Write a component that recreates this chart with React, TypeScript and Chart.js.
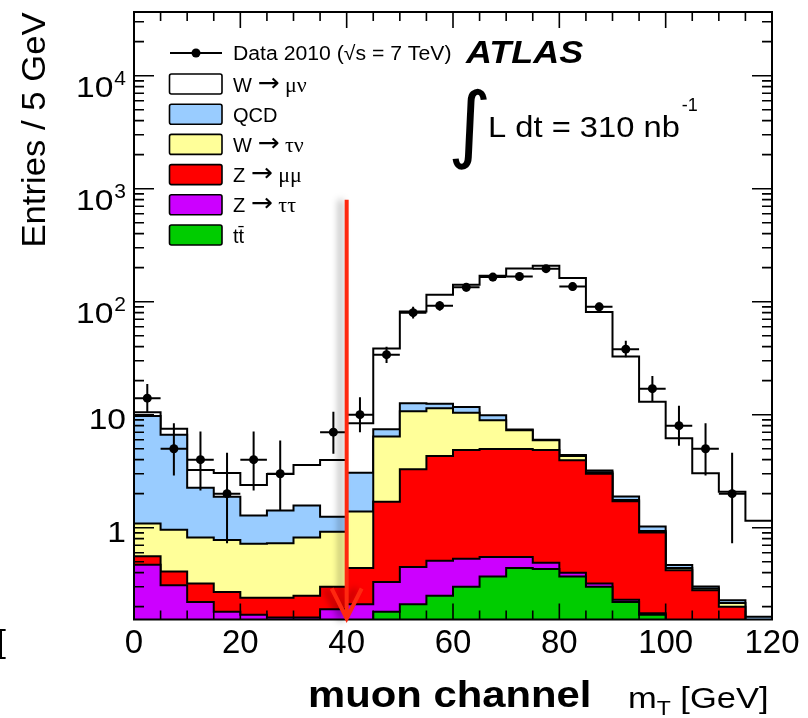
import { useEffect, useRef } from 'react';
import { Chart, registerables } from 'chart.js';

Chart.register(...registerables);

// m_T bin edges in GeV (5 GeV bins)
const binEdges = [0, 5, 10, 15, 20, 25, 30, 35, 40, 45, 50, 55, 60, 65, 70, 75, 80, 85, 90, 95, 100, 105, 110, 115, 120];

// Observed entries per bin (null = empty bin) and their error-bar extents
const dataCounts = [14, 5, 4, 2, 4, 3, null, 7, 10, 34, 80, 92, 134, 165, 167, 196, 136, 90, 38, 17, 8, 5, 2, null];
const dataErrLow = [10.5, 2.9, 2.13, 0.73, 2.13, 1.43, null, 4.5, 7.0, 28.6, 71, 83, 123, 152, 154, 182, 125, 82, 32.3, 13.1, 5.3, 2.9, 0.73, null];
const dataErrHigh = [18.7, 8.4, 7.1, 4.6, 7.1, 5.9, null, 10.6, 14.3, 40, 90, 101, 146, 178, 180, 211, 148, 98, 45, 22, 12, 8.4, 4.6, null];

// Expected entries per bin for each process (stack bottom first)
const ttbar = [0, 0, 0, 0, 0, 0, 0, 0, 0, 0.18, 0.21, 0.25, 0.30, 0.37, 0.44, 0.43, 0.37, 0.30, 0.22, 0.17, 0, 0, 0, 0];
const zTauTau = [0.47, 0.31, 0.22, 0.18, 0.17, 0.16, 0.16, 0.19, 0.21, 0.15, 0.24, 0.26, 0.23, 0.18, 0.11, 0.06, 0.03, 0.02, 0.01, 0.005, 0.05, 0.03, 0.02, 0.01];
const zMuMu = [0.09, 0.10, 0.10, 0.09, 0.07, 0.08, 0.09, 0.11, 0.23, 1.37, 2.84, 3.81, 4.35, 4.43, 4.43, 4.39, 3.55, 2.68, 1.48, 0.73, 0.37, 0.25, 0.18, 0.09];
const wTauNu = [0.53, 0.55, 0.50, 0.51, 0.48, 0.49, 0.57, 0.62, 0.95, 4.70, 7.41, 7.08, 5.52, 3.97, 2.32, 1.07, 0.35, 0.10, 0.05, 0.03, 0.02, 0.01, 0.015, 0.05];
const qcd = [8.66, 5.67, 1.44, 1.10, 0.56, 0.69, 0.75, 0.33, 1.68, 1.03, 1.90, 1.10, 1.30, 0.95, 0.10, 0.05, 0.10, 0.10, 0.13, 0.09, 0.027, 0.012, 0.013, 0.013];
const wMuNu = [0.75, 0.88, 0.98, 1.17, 1.11, 1.57, 2.02, 2.73, 5.33, 31.1, 69.3, 102.5, 129.3, 160.1, 189.6, 202, 157.6, 77.7, 30.8, 12.0, 5.72, 2.73, 1.85, 0.99];

// Legend entries, top to bottom
const legendDataLabel = 'Data 2010 (√s = 7 TeV)';
const legendLabels = ['W → μν', 'QCD', 'W → τν', 'Z → μμ', 'Z → ττ', 'tt̄'];
const legendColors = ['#ffffff', '#99ccff', '#ffff99', '#ff0000', '#cc00ff', '#00cc00'];

// Axis ranges and tick labels
const xMin = 0;
const xMax = 120;
const yMin = 0.154;
const yMax = 36600;
const xTickValues = [0, 20, 40, 60, 80, 100, 120];
const xTickLabels = ['0', '20', '40', '60', '80', '100', '120'];
const yTickValues = [1, 10, 100, 1000, 10000];
const yTickBase = ['1', '10', '10', '10', '10'];
const yTickExp = ['', '', '2', '3', '4'];

// Selection cut on m_T marked by the arrow
const cutValue = 40;
const cutArrowTop = 800;

const SANS = '"Liberation Sans", Arial, Helvetica, sans-serif';
const SERIF = '"Liberation Serif", "DejaVu Serif", serif';
const ARROW_FONT = '"DejaVu Sans", sans-serif';
const FLOOR = 1e-3;

type TextOpts = { align?: CanvasTextAlign; sx?: number; weight?: string; family?: string };

function drawText(ctx: CanvasRenderingContext2D, s: string, x: number, y: number, size: number, opts: TextOpts = {}) {
  const { align = 'left', sx = 1, weight = '', family = SANS } = opts;
  ctx.save();
  ctx.font = `${weight} ${size}px ${family}`;
  ctx.textAlign = align;
  ctx.textBaseline = 'alphabetic';
  ctx.fillStyle = '#000';
  ctx.translate(x, y);
  ctx.scale(sx, 1);
  ctx.fillText(s, 0, 0);
  const w = ctx.measureText(s).width * sx;
  ctx.restore();
  return w;
}

function textWidth(ctx: CanvasRenderingContext2D, s: string, size: number, opts: TextOpts = {}) {
  const { sx = 1, weight = '', family = SANS } = opts;
  ctx.save();
  ctx.font = `${weight} ${size}px ${family}`;
  const w = ctx.measureText(s).width * sx;
  ctx.restore();
  return w;
}

// Latin letters in a Helvetica-like face, Greek in serif, arrows long and thin
function drawSymbolText(ctx: CanvasRenderingContext2D, s: string, x: number, y: number, size: number) {
  let cx = x;
  const clusters = s.match(/\P{M}\p{M}*/gu) || [];
  for (const ch of clusters) {
    if (ch === '→') {
      cx += drawText(ctx, ch, cx, y - 1, size * 1.25, { family: ARROW_FONT, sx: 1.05 });
    } else {
      const fam = /[μντ]/.test(ch) ? SERIF : SANS;
      cx += drawText(ctx, ch, cx, y, /[μντ]/.test(ch) ? size * 1.1 : size, { family: fam });
    }
  }
}

const decorPlugin = {
  id: 'atlasDecor',
  afterDatasetsDraw(chart: any) {
    const { ctx } = chart;
    const xs = chart.scales.x;
    const ys = chart.scales.y;

    // error bars on the data points
    ctx.save();
    ctx.strokeStyle = '#000';
    ctx.lineWidth = 2;
    dataCounts.forEach((n, i) => {
      if (n == null) return;
      const x0 = xs.getPixelForValue(binEdges[i]);
      const x1 = xs.getPixelForValue(binEdges[i + 1]);
      const cx = (x0 + x1) / 2;
      const py = ys.getPixelForValue(n);
      ctx.beginPath();
      ctx.moveTo(x0, py);
      ctx.lineTo(x1, py);
      ctx.moveTo(cx, ys.getPixelForValue(dataErrLow[i] as number));
      ctx.lineTo(cx, ys.getPixelForValue(dataErrHigh[i] as number));
      ctx.stroke();
    });
    ctx.restore();
  },
  afterDraw(chart: any) {
    const { ctx, chartArea: a } = chart;
    const xs = chart.scales.x;
    const ys = chart.scales.y;

    // frame and inward ticks on all four sides
    ctx.save();
    ctx.strokeStyle = '#000';
    ctx.lineWidth = 1.6;
    ctx.beginPath();
    for (let v = xMin; v <= xMax; v += 5) {
      const px = xs.getPixelForValue(v);
      const len = v % 20 === 0 ? 16 : 9;
      ctx.moveTo(px, a.bottom);
      ctx.lineTo(px, a.bottom - len);
      ctx.moveTo(px, a.top);
      ctx.lineTo(px, a.top + len);
    }
    for (let k = -1; k <= 4; k++) {
      for (let m = 1; m <= 9; m++) {
        const v = m * Math.pow(10, k);
        if (v < yMin || v > yMax) continue;
        const py = ys.getPixelForValue(v);
        const len = m === 1 ? 20 : 10;
        ctx.moveTo(a.left, py);
        ctx.lineTo(a.left + len, py);
        ctx.moveTo(a.right, py);
        ctx.lineTo(a.right - len, py);
      }
    }
    ctx.stroke();
    ctx.lineWidth = 2;
    ctx.strokeRect(a.left, a.top, a.right - a.left, a.bottom - a.top);
    ctx.restore();

    // y tick labels
    yTickValues.forEach((v, i) => {
      const py = ys.getPixelForValue(v);
      const right = 126;
      if (!yTickExp[i]) {
        drawText(ctx, yTickBase[i], right, py + 14, 30, { align: 'right', sx: 1.12 });
      } else {
        const ew = textWidth(ctx, yTickExp[i], 21);
        drawText(ctx, yTickExp[i], right, py + 9, 21, { align: 'right' });
        drawText(ctx, yTickBase[i], right - ew - 1, py + 21, 30, { align: 'right', sx: 1.12 });
      }
    });

    // x tick labels
    xTickValues.forEach((v, i) => {
      drawText(ctx, xTickLabels[i], xs.getPixelForValue(v), 653, 33, { align: 'center' });
    });
    drawText(ctx, '[', -3, 652, 32);

    // axis titles
    ctx.save();
    ctx.translate(45, 130);
    ctx.rotate(-Math.PI / 2);
    drawText(ctx, 'Entries / 5 GeV', 0, 0, 34, { align: 'center', sx: 1.02 });
    ctx.restore();
    drawText(ctx, 'muon channel', 308, 707, 37, { weight: 'bold', sx: 1.13 });
    let mx = 628;
    mx += drawText(ctx, 'm', mx, 708, 30, { sx: 1.15 });
    mx += drawText(ctx, 'T', mx, 715, 20, { sx: 1.15 });
    drawText(ctx, ' [GeV]', mx, 708, 30, { sx: 1.15 });

    // legend
    ctx.save();
    ctx.strokeStyle = '#000';
    ctx.fillStyle = '#000';
    ctx.lineWidth = 2;
    ctx.beginPath();
    ctx.moveTo(170, 53);
    ctx.lineTo(222, 53);
    ctx.stroke();
    ctx.beginPath();
    ctx.arc(196, 53, 4.5, 0, Math.PI * 2);
    ctx.fill();
    ctx.restore();
    drawText(ctx, legendDataLabel, 233, 60, 20, { sx: 1.06 });
    legendLabels.forEach((label, i) => {
      const cy = 84 + i * 30.2;
      ctx.save();
      ctx.fillStyle = legendColors[i];
      ctx.strokeStyle = '#000';
      ctx.lineWidth = 1.6;
      ctx.beginPath();
      ctx.roundRect(169.5, cy - 10, 52.5, 20, 2);
      ctx.fill();
      ctx.stroke();
      ctx.restore();
      drawSymbolText(ctx, label, 233, cy + 7.5, 20);
    });

    // experiment label and integrated luminosity
    drawText(ctx, 'ATLAS', 466, 63, 31, { weight: 'italic bold', sx: 1.16 });
    drawText(ctx, '∫', 448, 152, 84, { family: '"DejaVu Sans", sans-serif' });
    const lw = drawText(ctx, 'L dt = 310 nb', 488, 137, 30, { sx: 1.09 });
    drawText(ctx, '-1', 488 + lw + 2, 111, 18);

    // cut arrow
    const ax = xs.getPixelForValue(cutValue);
    const top = ys.getPixelForValue(cutArrowTop);
    ctx.save();
    ctx.strokeStyle = 'rgb(255, 40, 15)';
    ctx.lineWidth = 4;
    ctx.shadowColor = 'rgba(0, 0, 0, 0.35)';
    ctx.shadowBlur = 7;
    ctx.shadowOffsetX = -6;
    ctx.beginPath();
    ctx.moveTo(ax, top);
    ctx.lineTo(ax, a.bottom - 1);
    ctx.moveTo(ax - 15, a.bottom - 31);
    ctx.lineTo(ax, a.bottom - 1);
    ctx.lineTo(ax + 15, a.bottom - 31);
    ctx.stroke();
    ctx.restore();
  },
};

function buildConfig(): any {
  const stack = [ttbar, zTauTau, zMuMu, wTauNu, qcd, wMuNu];
  const stackColors = ['#00cc00', '#cc00ff', '#ff0000', '#ffff99', '#99ccff', '#ffffff'];
  const nBins = binEdges.length - 1;
  const running = new Array(nBins).fill(0);
  const layers = stack.map((series, s) => {
    for (let i = 0; i < nBins; i++) running[i] += series[i];
    const cum = running.slice();
    return {
      type: 'line',
      data: binEdges.map((e, i) => ({ x: e, y: Math.max(cum[Math.min(i, nBins - 1)], FLOOR) })),
      stepped: true,
      fill: 'start',
      backgroundColor: stackColors[s],
      borderColor: '#000',
      borderWidth: 2,
      borderJoinStyle: 'miter',
      pointRadius: 0,
      clip: 0,
    };
  });
  const dataPoints = {
    type: 'line',
    data: dataCounts.map((n, i) => ({ x: (binEdges[i] + binEdges[i + 1]) / 2, y: n })),
    showLine: false,
    pointRadius: 4.5,
    pointStyle: 'circle',
    pointBackgroundColor: '#000',
    pointBorderColor: '#000',
    pointBorderWidth: 0,
  };
  return {
    type: 'line',
    data: { datasets: [dataPoints, ...layers] },
    options: {
      responsive: false,
      animation: false,
      devicePixelRatio: 1,
      events: [],
      layout: { padding: { left: 134, right: 36, top: 12, bottom: 98.5 } },
      scales: {
        x: { type: 'linear', min: xMin, max: xMax, display: false },
        y: { type: 'logarithmic', min: yMin, max: yMax, display: false },
      },
      plugins: { legend: { display: false }, tooltip: { enabled: false } },
    },
    plugins: [decorPlugin],
  };
}

export default function App() {
  const ref = useRef<HTMLCanvasElement>(null);
  useEffect(() => {
    const chart = new Chart(ref.current as HTMLCanvasElement, buildConfig());
    return () => chart.destroy();
  }, []);
  return (
    <div style={{ position: 'fixed', left: 0, top: 0, width: 808, height: 718, background: '#fff' }}>
      <canvas ref={ref} width={808} height={718} style={{ display: 'block', width: 808, height: 718 }} />
    </div>
  );
}
